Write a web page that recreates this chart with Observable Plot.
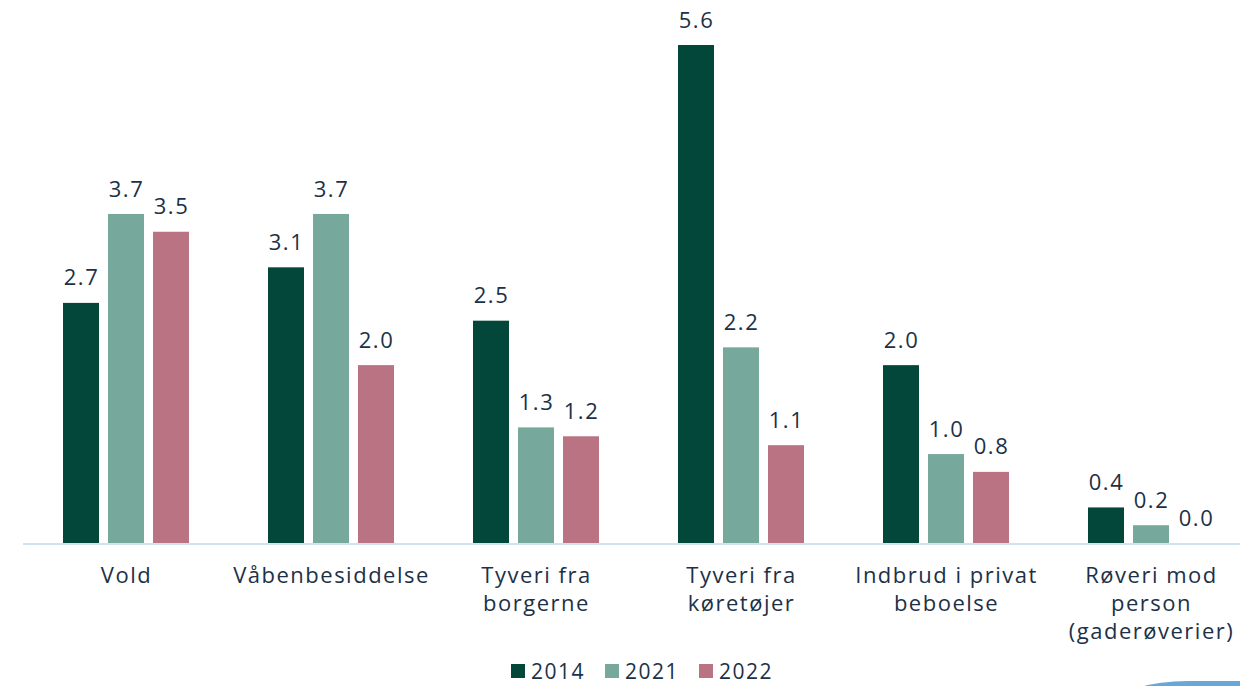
<!DOCTYPE html>
<html>
<head>
<meta charset="utf-8">
<script src="https://cdn.jsdelivr.net/npm/d3@7"></script>
<script src="https://cdn.jsdelivr.net/npm/@observablehq/plot@0.6"></script>
<style>
  html, body { margin: 0; padding: 0; background: #fff; overflow: hidden; width: 1240px; height: 686px; }
  #chart { position: absolute; left: 0; top: 0; }
  #legend { position: absolute; left: 22px; top: 659px; width: 1240px; height: 24px; display: flex; justify-content: center; align-items: center;
    font-family: 'Open Sans', sans-serif; font-size: 21px; letter-spacing: 1.5px; color: #1c3147; line-height: 24px; }
  .item { display: flex; align-items: center; margin: 0 10px; }
  .sw { width: 14px; height: 14px; margin-right: 6px; display: inline-block; }
  #deco { position: absolute; left: 1118px; top: 681px; width: 300px; height: 40px; background: #69a6d9; border-top-left-radius: 70px 22px; }
</style>
</head>
<body>
<div id="chart"></div>
<div id="legend"></div>
<div id="deco"></div>
<script>
const categories = ["Vold", "Våbenbesiddelse", "Tyveri fra\nborgerne", "Tyveri fra\nkøretøjer", "Indbrud i privat\nbeboelse", "Røveri mod\nperson\n(gaderøverier)"];
const years = ["2014", "2021", "2022"];
const values2014 = [2.7, 3.1, 2.5, 5.6, 2.0, 0.4];
const values2021 = [3.7, 3.7, 1.3, 2.2, 1.0, 0.2];
const values2022 = [3.5, 2.0, 1.2, 1.1, 0.8, 0.0];
const colors = ["#02473a", "#76a99b", "#b97382"];

const series = [values2014, values2021, values2022];
const data = [];
categories.forEach((c, i) => years.forEach((y, j) => data.push({category: c, year: y, value: series[j][i]})));

const textColor = "#1c3147";
const font = "'Open Sans', sans-serif";

const chart = Plot.plot({
  width: 1240,
  height: 650,
  marginTop: 45,
  marginBottom: 107,
  marginLeft: 23,
  marginRight: 0,
  style: {fontFamily: font, color: textColor, overflow: "visible", letterSpacing: "1.5px"},
  fx: {domain: categories, range: [23, 1254], paddingInner: 0.29, paddingOuter: 0.145, axis: null, label: null},
  x: {domain: years, padding: 0.21, axis: null, label: null},
  y: {domain: [0, 5.6], axis: null, label: null},
  color: {domain: years, range: colors},
  marks: [
    Plot.barY(data, {fx: "category", x: "year", y: "value", fill: "year"}),
    Plot.text(data, {fx: "category", x: "year", y: "value", text: d => d.value.toFixed(1),
      lineAnchor: "middle", dy: -25, fontSize: 22, fill: textColor}),
    Plot.text(categories, {fx: d => d, text: d => d, frameAnchor: "bottom", lineAnchor: "top",
      dy: 20, fontSize: 22, lineHeight: 1.27, fill: textColor})
  ]
});

// continuous baseline across the whole plot, placed with the y scale
const y0 = chart.scale("y").apply(0);
d3.select(chart).append("line")
  .attr("x1", 23).attr("x2", 1240)
  .attr("y1", y0 + 1).attr("y2", y0 + 1)
  .attr("stroke", "#d3e2f0").attr("stroke-width", 2);

document.getElementById("chart").append(chart);

// legend built from the chart's own color scale
const colorScale = chart.scale("color");
const legend = d3.select("#legend");
years.forEach(y => {
  const item = legend.append("span").attr("class", "item");
  item.append("span").attr("class", "sw").style("background", colorScale.apply(y));
  item.append("span").text(y);
});
</script>
</body>
</html>
